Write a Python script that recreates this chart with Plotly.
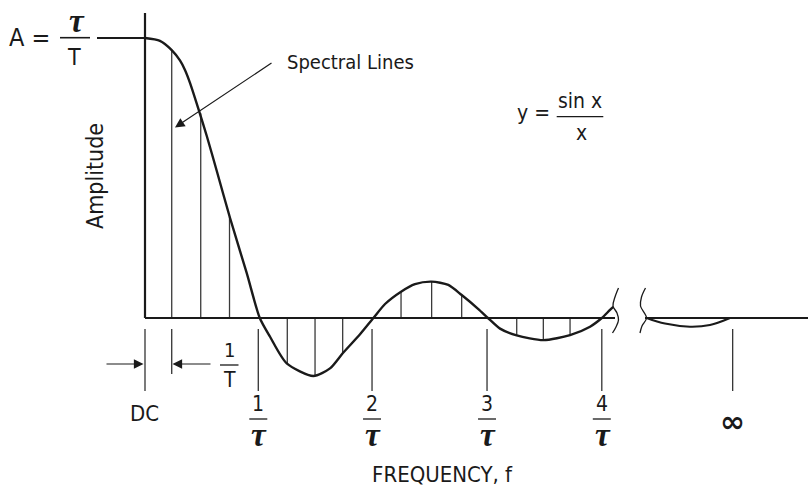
import plotly.graph_objects as go

# ---------------- data ----------------
# frequency in units of 1/tau, amplitude normalised to A = tau/T
curve_f = [0.0, 0.131, 0.234, 0.306, 0.350, 0.394, 0.467, 0.541, 0.628, 0.744, 0.891, 1.005,
           1.095, 1.241, 1.474, 1.620, 1.731, 1.883, 2.000,
           2.102, 2.242, 2.364, 2.510, 2.656, 2.773, 2.919, 3.003,
           3.109, 3.255, 3.488, 3.722, 3.897, 4.000, 4.072, 4.101]
curve_amp = [1.0, 0.990, 0.957, 0.920, 0.886, 0.840, 0.748, 0.650, 0.526, 0.358, 0.160, 0.0,
             -0.067, -0.162, -0.207, -0.180, -0.126, -0.058, 0.0,
             0.050, 0.094, 0.121, 0.130, 0.118, 0.082, 0.032, 0.0,
             -0.038, -0.062, -0.079, -0.061, -0.031, 0.0, 0.029, 0.040]

# segment after the axis break (approaching infinity)
tail_f = [4.393, 4.553, 4.772, 4.947, 5.123]
tail_amp = [0.0, -0.020, -0.031, -0.025, 0.0]

# spectral lines (spaced 1/T)
line_f = [0.234, 0.488, 0.740, 1.246, 1.489, 1.731, 2.242, 2.510, 2.773, 3.255, 3.488, 3.722]
line_amp = [0.957, 0.731, 0.362, -0.162, -0.207, -0.126, 0.094, 0.130, 0.082, -0.062, -0.079, -0.061]

# frequency ticks
tick_f = [0.0, 0.992, 1.988, 2.995, 4.0, 5.146]
tick_num = ["DC", "1", "2", "3", "4", "∞"]
period_f = 0.234  # 1/T marker

# ---------------- geometry helpers (pixel -> data) ----------------
W, H = 808, 487
X0, XS = 145.0, 114.2   # pixel of f=0, pixels per 1/tau
Y0, YS = 318.0, 280.0   # pixel of amplitude 0, pixels per unit amplitude


def X(px):
    return (px - X0) / XS


def Y(py):
    return (Y0 - py) / YS


SANS = "Liberation Sans Narrow, DejaVu Sans Condensed, Arial Narrow, sans-serif"
SERIF = "Liberation Serif, DejaVu Serif, serif"
INK = "#1a1a1a"

fig = go.Figure()

# spectral lines
lx, ly = [], []
for f, a in zip(line_f, line_amp):
    lx += [f, f, None]
    ly += [0, a, None]
fig.add_trace(go.Scatter(x=lx, y=ly, mode="lines",
                         line=dict(color="#3a3a3a", width=1.3), hoverinfo="skip"))

# main sin x / x curve
fig.add_trace(go.Scatter(x=curve_f, y=curve_amp, mode="lines",
                         line=dict(color=INK, width=2.4, shape="spline", smoothing=0.7),
                         hoverinfo="skip"))
fig.add_trace(go.Scatter(x=tail_f, y=tail_amp, mode="lines",
                         line=dict(color=INK, width=2.0, shape="spline", smoothing=1.0),
                         hoverinfo="skip"))

# break symbols
brk1 = [(618.5, 288), (615, 297), (613, 306), (617, 313), (618.5, 320), (616, 327), (612.5, 333)]
brk2 = [(645.5, 288), (641.5, 297), (640.5, 306), (646.5, 318), (642, 326), (640, 333)]
for b in (brk1, brk2):
    fig.add_trace(go.Scatter(x=[X(p[0]) for p in b], y=[Y(p[1]) for p in b], mode="lines",
                             line=dict(color=INK, width=1.3, shape="spline"), hoverinfo="skip"))

shapes = []
# axes
shapes.append(dict(type="line", x0=0, x1=0, y0=Y(13), y1=0, line=dict(color=INK, width=2.2)))
shapes.append(dict(type="line", x0=0, x1=X(615), y0=0, y1=0, line=dict(color=INK, width=2.2)))
shapes.append(dict(type="line", x0=X(645), x1=X(808), y0=0, y1=0, line=dict(color=INK, width=2.2)))
# amplitude leader line A = tau/T
shapes.append(dict(type="line", x0=X(97), x1=0, y0=1, y1=1, line=dict(color=INK, width=2.0)))

# tick marks below the axis
for f in tick_f:
    shapes.append(dict(type="line", x0=f, x1=f, y0=Y(329), y1=Y(391),
                       line=dict(color="#333", width=1.3)))
shapes.append(dict(type="line", x0=period_f, x1=period_f, y0=Y(329), y1=Y(374),
                   line=dict(color="#333", width=1.3)))

annotations = []


def txt(s, cx, cy, size, family=SANS, **kw):
    annotations.append(dict(text=s, x=X(cx), y=Y(cy), xref="x", yref="y", showarrow=False,
                            xanchor="center", yanchor="middle",
                            font=dict(family=family, size=size, color=INK), **kw))


def bar(x0, x1, y, w=1.3):
    shapes.append(dict(type="line", x0=X(x0), x1=X(x1), y0=Y(y), y1=Y(y),
                       line=dict(color=INK, width=w)))


# frequency labels
for f, lab in zip(tick_f, tick_num):
    cx = X0 + f * XS
    if lab == "DC":
        txt("DC", cx - 1, 413, 22)
    elif lab == "∞":
        txt("<b>∞</b>", cx, 421, 30, family="DejaVu Sans, sans-serif")
    else:
        txt(lab, cx, 404, 21)
        bar(cx - 9, cx + 9, 419)
        txt("<b><i>τ</i></b>", cx + 1, 435, 33, family=SERIF)

# 1/T label
txt("1", 229, 350, 20)
bar(220, 238.5, 365)
txt("T", 229, 380, 21)

# A = tau/T
txt("A =", 29, 37, 25)
txt("<b><i>τ</i></b>", 77, 21, 33, family=SERIF)
bar(60, 90, 37.7, 1.6)
txt("T", 74, 56.5, 23)

# y = sin x / x
txt("y =", 533, 113, 21)
txt("sin x", 580, 101, 21)
bar(556.7, 603.3, 116.7)
txt("x", 581, 133, 21)

# other labels
txt("Spectral Lines", 350, 62, 20)
txt("Amplitude", 95, 176, 23, textangle=-90)
txt("FREQUENCY, f", 442, 474, 22)


# arrows
def arrow(tipx, tipy, tailx, taily):
    annotations.append(dict(text="", x=X(tipx), y=Y(tipy), xref="x", yref="y",
                            ax=tailx - tipx, ay=taily - tipy, showarrow=True,
                            arrowhead=2, arrowsize=1.6, arrowwidth=1.2, arrowcolor=INK,
                            standoff=0, startstandoff=0))


arrow(175, 127.5, 273, 62)
arrow(143.5, 364, 105, 364)
arrow(172.5, 364, 212, 364)

fig.update_layout(
    width=W, height=H,
    margin=dict(l=0, r=0, t=0, b=0),
    paper_bgcolor="white", plot_bgcolor="white",
    showlegend=False,
    xaxis=dict(range=[X(0), X(W)], visible=False, fixedrange=True),
    yaxis=dict(range=[Y(H), Y(0)], visible=False, fixedrange=True),
    shapes=shapes, annotations=annotations,
)

fig.write_html("out.html", config={"displayModeBar": False},
               post_script="document.body.style.margin='0px';document.body.style.overflow='hidden';")
